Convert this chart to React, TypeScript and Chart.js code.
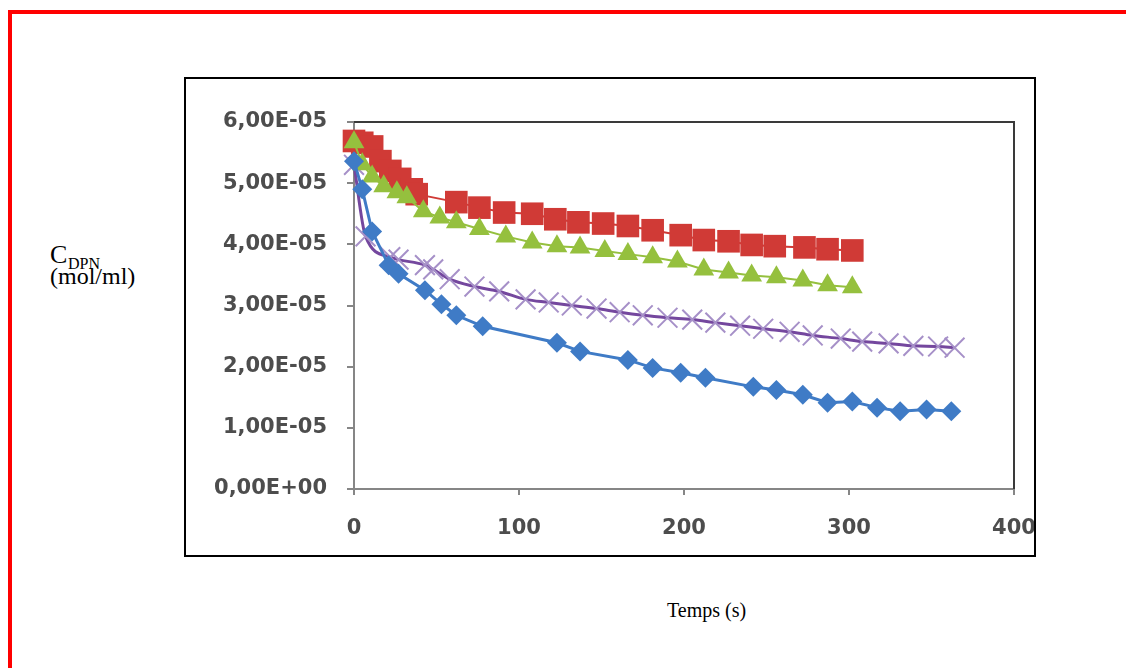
import React, { useEffect, useRef } from "react";
import { Chart, registerables } from "chart.js";

Chart.register(...registerables);

// ---- Data (time in s, concentration in mol/ml) ----
const blueTime = [0, 5, 11, 21, 27, 43, 53, 62, 78, 123, 137, 166, 181, 198, 213, 242, 256, 272, 287, 302, 317, 331, 347, 362];
const blueConc = [5.36e-5, 4.9e-5, 4.21e-5, 3.66e-5, 3.52e-5, 3.25e-5, 3.02e-5, 2.84e-5, 2.66e-5, 2.39e-5, 2.25e-5, 2.11e-5, 1.98e-5, 1.9e-5, 1.82e-5, 1.67e-5, 1.62e-5, 1.54e-5, 1.41e-5, 1.43e-5, 1.33e-5, 1.27e-5, 1.3e-5, 1.27e-5];

const redTime = [0, 5, 11, 16, 22, 28, 35, 38, 62, 76, 91, 108, 122, 136, 151, 166, 181, 198, 212, 227, 241, 255, 273, 287, 302];
const redConc = [5.69e-5, 5.66e-5, 5.6e-5, 5.36e-5, 5.2e-5, 5.07e-5, 4.9e-5, 4.82e-5, 4.69e-5, 4.6e-5, 4.52e-5, 4.5e-5, 4.41e-5, 4.36e-5, 4.34e-5, 4.3e-5, 4.23e-5, 4.15e-5, 4.07e-5, 4.05e-5, 3.99e-5, 3.97e-5, 3.95e-5, 3.92e-5, 3.9e-5];

const greenTime = [0, 5, 11, 18, 26, 32, 42, 52, 62, 76, 92, 108, 123, 137, 152, 166, 181, 196, 212, 227, 241, 256, 272, 287, 302];
const greenConc = [5.67e-5, 5.31e-5, 5.11e-5, 4.95e-5, 4.85e-5, 4.77e-5, 4.54e-5, 4.44e-5, 4.36e-5, 4.25e-5, 4.13e-5, 4.03e-5, 3.97e-5, 3.95e-5, 3.89e-5, 3.84e-5, 3.79e-5, 3.72e-5, 3.59e-5, 3.54e-5, 3.49e-5, 3.46e-5, 3.41e-5, 3.33e-5, 3.3e-5];

const purpleTime = [0, 7, 22, 27, 43, 48, 58, 73, 88, 104, 118, 132, 147, 161, 175, 190, 205, 219, 234, 248, 264, 278, 295, 308, 324, 339, 354, 364];
const purpleConc = [5.3e-5, 4.13e-5, 3.79e-5, 3.75e-5, 3.66e-5, 3.59e-5, 3.43e-5, 3.31e-5, 3.23e-5, 3.1e-5, 3.05e-5, 3.0e-5, 2.95e-5, 2.89e-5, 2.84e-5, 2.8e-5, 2.77e-5, 2.72e-5, 2.67e-5, 2.62e-5, 2.57e-5, 2.51e-5, 2.46e-5, 2.41e-5, 2.38e-5, 2.34e-5, 2.33e-5, 2.31e-5];

const xTicks = [0, 100, 200, 300, 400];
const yTicks = [0, 1e-5, 2e-5, 3e-5, 4e-5, 5e-5, 6e-5];

const xTitle = "Temps (s)";
const yTitleMain = "C";
const yTitleSub = "DPN";
const yTitleUnit = "(mol/ml)";

function toPoints(t: number[], c: number[]) {
  return t.map((v, i) => ({ x: v, y: c[i] }));
}

function sci(v: number): string {
  if (Math.abs(v) < 1e-15) return "0,00E+00";
  let e = Math.floor(Math.log10(Math.abs(v)));
  let m = v / Math.pow(10, e);
  if (Math.abs(m) >= 9.995) {
    m /= 10;
    e += 1;
  }
  if (Math.abs(m) < 0.9995) {
    m *= 10;
    e -= 1;
  }
  const sign = e < 0 ? "-" : "+";
  return m.toFixed(2).replace(".", ",") + "E" + sign + String(Math.abs(e)).padStart(2, "0");
}

const plotBorder = {
  id: "plotBorder",
  beforeDatasetsDraw(chart: any) {
    const { ctx, chartArea } = chart;
    const { left, top, right, bottom } = chartArea;
    ctx.save();
    ctx.strokeStyle = "#3a3a3a";
    ctx.lineWidth = 2;
    ctx.beginPath();
    ctx.moveTo(left, top);
    ctx.lineTo(right, top);
    ctx.lineTo(right, bottom);
    ctx.stroke();
    ctx.restore();
  },
};

function ChartCanvas() {
  const ref = useRef<HTMLCanvasElement | null>(null);
  useEffect(() => {
    if (!ref.current) return;
    const tickFont = { family: "'DejaVu Sans', sans-serif", size: 21, weight: "bold" as const };
    const chart = new Chart(ref.current, {
      type: "line",
      data: {
        datasets: [
          {
            label: "s1",
            data: toPoints(blueTime, blueConc),
            borderColor: "#3f7bc6",
            backgroundColor: "#3f7bc6",
            borderWidth: 3,
            pointStyle: "rectRot",
            pointRadius: 10,
            pointBorderWidth: 0,
            pointBackgroundColor: "#3f7bc6",
            tension: 0,
            clip: false,
          },
          {
            label: "s3",
            data: toPoints(greenTime, greenConc),
            borderColor: "#95c03e",
            backgroundColor: "#95c03e",
            borderWidth: 2,
            pointStyle: "triangle",
            pointRadius: 12,
            pointBorderWidth: 0,
            pointBackgroundColor: "#95c03e",
            tension: 0,
            clip: false,
          },
          {
            label: "s2",
            data: toPoints(redTime, redConc),
            borderColor: "#d03a36",
            backgroundColor: "#d03a36",
            borderWidth: 2,
            pointStyle: "rect",
            pointRadius: 16,
            pointBorderWidth: 0,
            pointBackgroundColor: "#d03a36",
            tension: 0,
            clip: false,
          },
          {
            label: "s4",
            data: toPoints(purpleTime, purpleConc),
            borderColor: "#74479e",
            backgroundColor: "#74479e",
            borderWidth: 3,
            pointStyle: "crossRot",
            pointRadius: 14,
            pointBorderWidth: 2,
            pointBorderColor: "#a690c8",
            tension: 0.4,
            cubicInterpolationMode: "monotone",
            clip: false,
          },
        ],
      },
      options: {
        animation: false,
        responsive: false,
        maintainAspectRatio: false,
        layout: { padding: { left: 0, top: 45, right: 22, bottom: 0 } },
        plugins: { legend: { display: false }, tooltip: { enabled: false } },
        scales: {
          x: {
            type: "linear",
            min: 0,
            max: 400,
            afterBuildTicks: (s: any) => {
              s.ticks = xTicks.map((v) => ({ value: v }));
            },
            afterFit: (s: any) => {
              s.height = 68;
              s.paddingLeft = 0;
              s.paddingRight = 0;
            },
            grid: { display: true, drawOnChartArea: false, drawTicks: true, tickLength: 6, color: "#868686", lineWidth: 2 },
            border: { display: true, color: "#868686", width: 2 },
            ticks: { font: tickFont, color: "#4d4d4d", padding: 21, maxRotation: 0 },
          },
          y: {
            type: "linear",
            min: 0,
            max: 6e-5,
            afterBuildTicks: (s: any) => {
              s.ticks = yTicks.map((v) => ({ value: v }));
            },
            afterFit: (s: any) => {
              s.width = 170;
              s.paddingTop = 0;
              s.paddingBottom = 0;
            },
            grid: { display: true, drawOnChartArea: false, drawTicks: true, tickLength: 7, color: "#868686", lineWidth: 2 },
            border: { display: true, color: "#868686", width: 2 },
            ticks: { font: tickFont, color: "#4d4d4d", padding: 20, callback: (v: any) => sci(Number(v)) },
          },
        },
      },
      plugins: [plotBorder],
    });
    return () => chart.destroy();
  }, []);
  return (
    <canvas
      ref={ref}
      width={852}
      height={480}
      style={{ position: "absolute", left: 184, top: 77, width: 852, height: 480 }}
    />
  );
}

export default function App() {
  const serif = "'Liberation Serif', 'Times New Roman', serif";
  return (
    <div style={{ position: "fixed", left: 0, top: 0, width: 1126, height: 668, background: "#fff", overflow: "hidden" }}>
      <div
        style={{
          position: "absolute",
          left: 8,
          top: 10,
          width: 1200,
          height: 800,
          borderTop: "4px solid #ff0000",
          borderLeft: "4px solid #ff0000",
        }}
      />
      <ChartCanvas />
      <div
        style={{
          position: "absolute",
          left: 184,
          top: 77,
          width: 852,
          height: 480,
          boxSizing: "border-box",
          border: "2px solid #000",
          pointerEvents: "none",
        }}
      />
      <div style={{ position: "absolute", left: 50, top: 242, fontFamily: serif, fontSize: 26, lineHeight: 1, color: "#000" }}>
        {yTitleMain}
      </div>
      <div style={{ position: "absolute", left: 68, top: 256, fontFamily: serif, fontSize: 16, lineHeight: 1, color: "#000" }}>
        {yTitleSub}
      </div>
      <div style={{ position: "absolute", left: 50, top: 264, fontFamily: serif, fontSize: 24, lineHeight: 1, color: "#000" }}>
        {yTitleUnit}
      </div>
      <div style={{ position: "absolute", left: 667, top: 600, fontFamily: serif, fontSize: 20, lineHeight: 1, color: "#000" }}>
        {xTitle}
      </div>
    </div>
  );
}
